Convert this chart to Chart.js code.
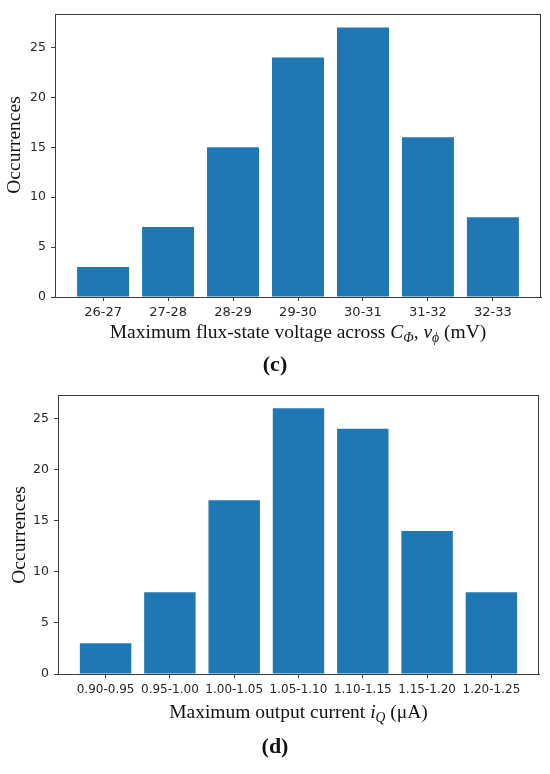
<!DOCTYPE html>
<html>
<head>
<meta charset="utf-8">
<script src="https://cdn.jsdelivr.net/npm/chart.js@4/dist/chart.umd.min.js"></script>
<style>
  html, body { margin: 0; padding: 0; background: #fff; }
  #wrap { position: relative; width: 550px; height: 774px; }
  .box { position: absolute; left: 0; width: 550px; }
</style>
</head>
<body>
<div id="wrap">
  <div class="box" style="top:0;height:380px"><canvas id="chartC"></canvas></div>
  <div class="box" style="top:380px;height:394px"><canvas id="chartD"></canvas></div>
</div>
<script>
// (c) flux-state voltage histogram
var voltBins = ["26-27", "27-28", "28-29", "29-30", "30-31", "31-32", "32-33"];
var voltCounts = [3, 7, 15, 24, 27, 16, 8];

// (d) output current histogram
var currBins = ["0.90-0.95", "0.95-1.00", "1.00-1.05", "1.05-1.10", "1.10-1.15", "1.15-1.20", "1.20-1.25"];
var currCounts = [3, 8, 17, 26, 24, 14, 8];

var yTicks = [0, 5, 10, 15, 20, 25];

var barColor = "#1f77b4";
var axisColor = "#3a3a3a";
var tickColor = "#262626";

// titles, drawn as runs so the symbols can be italic / subscript
var voltTitle = [
    {t: "Maximum flux-state voltage across "},
    {t: "C", it: true},
    {t: "Φ", it: true, sub: true},
    {t: ", "},
    {t: "v", it: true},
    {t: "ϕ", it: true, sub: true},
    {t: " (mV)"}
];
var currTitle = [
    {t: "Maximum output current "},
    {t: "i", it: true},
    {t: "Q", it: true, sub: true},
    {t: " (μA)"}
];

function runFont(r, size){
    let s = r.sub ? size * 0.7 : size;
    return (r.it ? "italic " : "") + s + "px 'Liberation Serif'";
}

function drawRuns(ctx, runs, cx, y, size){
    let total = 0;
    runs.forEach(function(r){
        ctx.font = runFont(r, size);
        r.w = ctx.measureText(r.t).width;
        total += r.w;
    });
    let x = cx - total / 2;
    ctx.textAlign = "left";
    ctx.textBaseline = "middle";
    runs.forEach(function(r){
        ctx.font = runFont(r, size);
        ctx.fillText(r.t, x, y + (r.sub ? size * 0.28 : 0));
        x += r.w;
    });
}

// frame + labels around the plot
var decor = {
    id: "decor",
    afterDraw: function(chart, args, o){
        let ctx = chart.ctx;
        let a = chart.chartArea;
        ctx.save();
        ctx.strokeStyle = axisColor;
        ctx.lineWidth = 1;
        ctx.strokeRect(a.left + 0.5, a.top + 0.5, a.right - a.left - 1, a.bottom - a.top);
        ctx.fillStyle = "#111";
        drawRuns(ctx, o.runs, (a.left + a.right) / 2, a.bottom + o.titleDy, 19.5);
        // y label
        ctx.save();
        ctx.translate(o.yx, o.yy);
        ctx.rotate(-Math.PI / 2);
        ctx.font = "19.5px 'Liberation Serif'";
        ctx.textAlign = "center";
        ctx.textBaseline = "middle";
        ctx.fillText("Occurrences", 0, 0);
        ctx.restore();
        // panel letter
        ctx.font = "bold 22px 'Liberation Serif'";
        ctx.textAlign = "center";
        ctx.textBaseline = "middle";
        ctx.fillText(o.caption, chart.width / 2, o.captionY);
        ctx.restore();
    }
};

function makeChart(id, bins, counts, opt){
    let pts = counts.map(function(v, i){ return {x: i, y: v}; });
    return new Chart(document.getElementById(id), {
        type: "bar",
        data: {
            datasets: [{
                data: pts,
                backgroundColor: barColor,
                borderWidth: 0,
                categoryPercentage: 1.0,
                barPercentage: 0.8
            }]
        },
        plugins: [decor],
        options: {
            responsive: true,
            maintainAspectRatio: false,
            animation: false,
            layout: {padding: opt.pad},
            plugins: {
                legend: {display: false},
                tooltip: {enabled: false},
                decor: opt.decor
            },
            scales: {
                x: {
                    type: "linear",
                    offset: false,
                    min: -0.74,
                    max: 6.74,
                    afterBuildTicks: function(s){
                        s.ticks = bins.map(function(b, i){ return {value: i}; });
                    },
                    afterFit: function(s){ s.height = opt.xh; },
                    ticks: {
                        autoSkip: false,
                        maxRotation: 0,
                        padding: opt.xpad,
                        color: tickColor,
                        font: {family: "DejaVu Sans", size: opt.xfont},
                        callback: function(v){ return bins[v]; }
                    },
                    grid: {offset: false, drawOnChartArea: false, tickLength: 4, color: axisColor},
                    border: {color: axisColor}
                },
                y: {
                    min: 0,
                    max: Math.max.apply(null, counts) * 1.05,
                    afterBuildTicks: function(s){
                        s.ticks = yTicks.map(function(v){ return {value: v}; });
                    },
                    afterFit: function(s){ s.width = opt.yw; },
                    ticks: {
                        padding: 5,
                        color: tickColor,
                        font: {family: "DejaVu Sans", size: 12.5}
                    },
                    grid: {drawOnChartArea: false, tickLength: 4, color: axisColor},
                    border: {color: axisColor}
                }
            }
        }
    });
}

makeChart("chartC", voltBins, voltCounts, {
    pad: {top: 14, right: 9, left: 0, bottom: 0},
    yw: 55, xh: 83, xpad: 4, xfont: 13,
    decor: {runs: voltTitle, titleDy: 36, yx: 15, yy: 145, caption: "(c)", captionY: 365}
});
makeChart("chartD", currBins, currCounts, {
    pad: {top: 15, right: 11, left: 0, bottom: 0},
    yw: 58, xh: 100, xpad: 5, xfont: 12,
    decor: {runs: currTitle, titleDy: 39, yx: 20, yy: 155, caption: "(d)", captionY: 367}
});
</script>
</body>
</html>
